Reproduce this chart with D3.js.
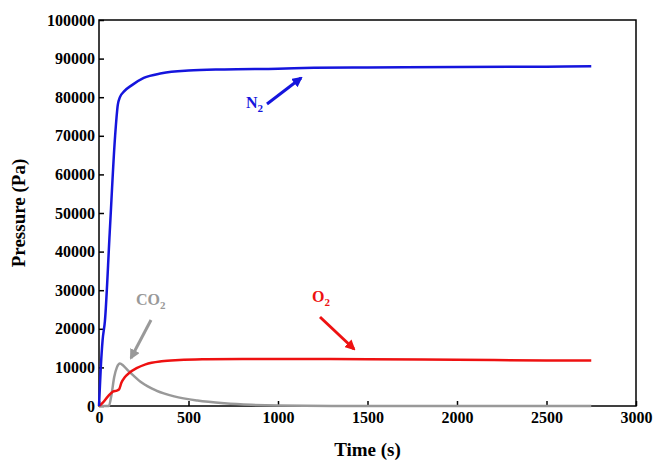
<!DOCTYPE html>
<html><head><meta charset="utf-8">
<script src="https://cdn.jsdelivr.net/npm/d3@7"></script>
<style>body{margin:0;background:#fff;font-family:"Liberation Serif","Times New Roman",serif;}</style>
</head><body>
<svg id="c" width="656" height="464"></svg>
<script>
// time (s) / pressure (Pa)
const n2T = [0, 10, 20, 33, 60, 90, 105, 117, 140, 180, 250, 350, 500, 700, 1000, 1200, 1500, 2000, 2500, 2750];
const n2P = [0, 10000, 17000, 22000, 45000, 70000, 78000, 80000, 81500, 83000, 85000, 86200, 86900, 87200, 87400, 87600, 87700, 87800, 87900, 88000];
const o2T = [0, 20, 50, 80, 100, 112, 125, 145, 170, 210, 260, 350, 450, 600, 800, 1000, 1500, 2000, 2500, 2750];
const o2P = [0, 800, 2500, 3800, 4000, 4300, 6000, 7500, 8600, 9800, 10800, 11600, 11900, 12100, 12200, 12200, 12100, 12000, 11800, 11800];
const co2T = [0, 55, 70, 85, 100, 117, 135, 160, 190, 240, 320, 420, 550, 700, 850, 1000, 1300, 2000, 2750];
const co2P = [0, 0, 3000, 7500, 10000, 11000, 10500, 9300, 8000, 6000, 4000, 2500, 1400, 700, 300, 120, 30, 0, 0];
const xTicks = [0, 500, 1000, 1500, 2000, 2500, 3000];
const yTicks = d3.range(0, 100001, 10000);

const svg = d3.select("#c");
const m = {l: 99, r: 20, t: 20, b: 58};
const W = 656, H = 464;
const x = d3.scaleLinear().domain([0, 3000]).range([m.l, W - m.r]);
const y = d3.scaleLinear().domain([0, 100000]).range([H - m.b, m.t]);

svg.append("rect").attr("x", m.l).attr("y", m.t).attr("width", W - m.r - m.l).attr("height", H - m.b - m.t)
  .attr("fill", "none").attr("stroke", "#000").attr("stroke-width", 1.5);

const xa = svg.append("g").attr("transform", `translate(0,${H - m.b})`)
  .call(d3.axisBottom(x).tickValues(xTicks).tickSize(-5).tickPadding(6).tickFormat(d3.format("d")));
const ya = svg.append("g").attr("transform", `translate(${m.l},0)`)
  .call(d3.axisLeft(y).tickValues(yTicks).tickSize(-5).tickPadding(4).tickFormat(d3.format("d")));
[xa, ya].forEach(a => {
  a.select(".domain").remove();
  a.selectAll("line").attr("stroke-width", 1.5);
  a.selectAll("text").attr("font-family", "Liberation Serif").attr("font-weight", "bold").attr("font-size", 16);
});

svg.append("text").attr("x", (m.l + W - m.r) / 2).attr("y", H - 8).attr("text-anchor", "middle")
  .attr("font-weight", "bold").attr("font-size", 19).text("Time (s)");
svg.append("text").attr("transform", `translate(25,${(m.t + H - m.b) / 2}) rotate(-90)`).attr("text-anchor", "middle")
  .attr("font-weight", "bold").attr("font-size", 19).text("Pressure (Pa)");

const line = d3.line().x(d => x(d[0])).y(d => y(d[1])).curve(d3.curveMonotoneX);
const series = [[co2T, co2P, "#999999"], [o2T, o2P, "#ee1111"], [n2T, n2P, "#1515dd"]];
series.forEach(([t, p, c]) => {
  svg.append("path").datum(t.map((v, i) => [v, p[i]])).attr("d", line)
    .attr("fill", "none").attr("stroke", c).attr("stroke-width", 2.5);
});

const defs = svg.append("defs");
function arrow(id, c) {
  defs.append("marker").attr("id", id).attr("viewBox", "0 0 10 10").attr("refX", 8).attr("refY", 5)
    .attr("markerWidth", 3.5).attr("markerHeight", 3.5).attr("orient", "auto")
    .append("path").attr("d", "M0,0L10,5L0,10z").attr("fill", c);
}
arrow("an", "#1515dd"); arrow("ao", "#ee1111"); arrow("ac", "#999999");

function label(px, py, base, c) {
  const t = svg.append("text").attr("x", px).attr("y", py).attr("fill", c).attr("font-weight", "bold").attr("font-size", 16);
  t.append("tspan").text(base);
  t.append("tspan").attr("font-size", 11).attr("dy", 4).text("2");
}
label(246, 108, "N", "#1515dd");
svg.append("line").attr("x1", 267).attr("y1", 104).attr("x2", 301).attr("y2", 78)
  .attr("stroke", "#1515dd").attr("stroke-width", 3).attr("marker-end", "url(#an)");
label(136, 305, "CO", "#999999");
svg.append("line").attr("x1", 151).attr("y1", 320).attr("x2", 131).attr("y2", 358)
  .attr("stroke", "#999999").attr("stroke-width", 3).attr("marker-end", "url(#ac)");
label(312, 302, "O", "#ee1111");
svg.append("line").attr("x1", 320).attr("y1", 317).attr("x2", 354).attr("y2", 349)
  .attr("stroke", "#ee1111").attr("stroke-width", 3).attr("marker-end", "url(#ao)");
</script>
</body></html>
